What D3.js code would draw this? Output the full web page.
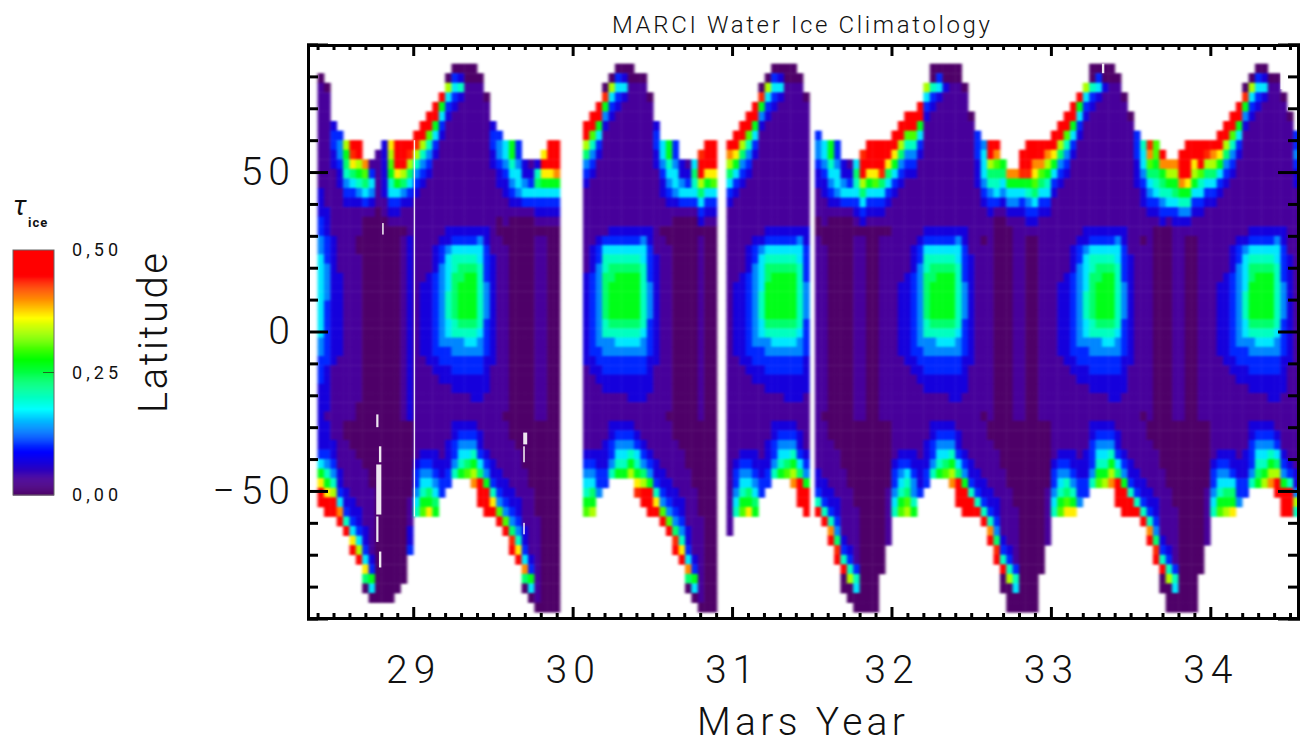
<!DOCTYPE html>
<html>
<head>
<meta charset="utf-8">
<script src="https://cdn.jsdelivr.net/npm/d3@7"></script>
<style>
  html, body { margin: 0; background: #fff; }
  text { font-family: Roboto, "Open Sans", sans-serif; font-weight: 300; fill: #111; }
</style>
</head>
<body>
<div id="my_dataviz"></div>
<script>
// each column is "north belt south", one hex digit per latitude cell, tau = digit / 30
// "." or a short south string means no data
var starts = { my28: 28.40, my29: 29.00, my30: 30.065, my31a: 30.965, my31b: 31.52, my32: 32.00, my33: 33.00, my34: 34.00 };

var my28 = [
  "...01111111111122233 44555555555443332222 222358bff",
  "....0111111111111222 33344443333333222221 2223468bff",
  "........233221111111 22222222222222111111 1122346aff",
  ".........34432211111 11112222222221111111 111112235cf",
  "..........a876432111 11111111111111111111 00111112236f",
  "..........fdb7532111 11111111111111111111 000111112235bf",
  "..........fea8642111 00111111111111111100 0000111112235af",
  "............c9753100 00000000000000000000 000001111112235b70",
  "............13542100 00000000000000000000 0000000111111123850",
  "...........111111000 00000000000000000000 0000000000000000000",
  "..........2222221100 00000000000000000000 0000000000000000000",
  "..........ba98653210 00000000000000000000 0000000000000000000",
  "..........fffb853210 00000000000000000000 000000000000000000",
  "..........ffea742110 11111111111111111111 00000000000000000",
  "..........fda7532111 22222222222222222222 00000000111223"
];
var my29 = [
  ".........fda64321111 11111111111111111111 1111233456",
  "........ffa643211111 11111222222221111111 1112345689",
  ".......ff96432111111 11112222222222111111 111234578b",
  "......fe853211111111 12223333333332211111 1112234578",
  ".....e85321111111111 23344444444433221111 11112233",
  "...0a532111111111112 24555566655433221111 1122233",
  "..035321111111111112 35667777766443322111 223346",
  "..026211111111111112 35677888876443322111 234568",
  "..001111111111111112 35678888876543322111 234579",
  "..001111111111111112 35678888876543322211 23468ac",
  "...01111111111111112 45566666665443322211 122357eff",
  ".....011111111111112 23333444433332222111 1112348eff",
  "........233221111111 11222222222222111111 11112236bf",
  ".........34432211100 11111111111111111111 1111122349e",
  "..........5543221110 01111111111111111110 11111122349f",
  "..........8865432100 00000000000000000000 001111122347df",
  "..........3345542100 00000000000000000000 0001111122346bf",
  "............22453100 00000000000000000000 000001111112235c70",
  "............12353100 00000000000000000000 0000000111111123850",
  "............26753210 11111111111111111111 00000000001111111110",
  "...........beb853210 11111111111111111111 00000000000000000000",
  "..........fffb853210 00000000000000000000 00000000000000000000",
  "..........fffc853210 00000000000000000000 00000000000000000000"
];
var my30 = [
  "........ffa743211111 11112222222222111111 1112345689",
  ".......ff96432111111 12223333333332211111 111234578a",
  "......fe853211111111 23344444444433221111 11122334",
  "....0d84211111111111 35667777766443322111 1122233",
  "...0a532111111111112 35677888876443322111 223346",
  "..035321111111111112 35678888876543322111 234568",
  "..025211111111111112 35678888876543322111 234568",
  "..001111111111111112 35678888876543322211 23468a",
  "...01111111111111112 35678888876543322211 123568bd",
  "...01111111111111112 45566666665443322211 112347aef",
  ".....011111111111112 23333444433332222111 1112348eff",
  "........233221111111 11222222222222111111 11112236bf",
  "..........5543221110 11111111111111111111 1111122349e",
  "..........8865432110 01111111111111111110 11111122349f",
  "..........3345542100 00000000000000000000 001111122347df",
  "............22453100 00000000000000000000 0001111122346bf",
  "............12353100 00000000000000000000 000001111112235c70",
  "............57653100 00000000000000000000 0000000111111123850",
  "...........dffa75320 11111111111111111111 00000000001111111110",
  "..........fffb853210 00000000000000000000 00000000000000000000",
  "..........fffb953210 00000000000000000000 00000000000000000000"
];
var my31a = [
  "..........fca7532111 11111111111111111111 111111111111",
  ".........ffb85321111 11111222222221111111 1111233456",
  "........ffa743211111 11112222222222111111 1112345689",
  ".......ff96432111111 12223333333332211111 111234578b",
  "......fe853211111111 23344444444433221111 1112234578",
  "....0d84211111111111 24555566655433221111 11112233",
  "...0a532111111111112 35677888876443322111 1122233",
  "..035321111111111112 35678888876543322111 223346",
  "..025211111111111112 35678888876543322111 234568",
  "..001111111111111112 35678888876543322211 234579",
  "..001111111111111112 35678888876543322211 23468ac",
  "...01111111111111112 45566666665443322211 122357eff",
  ".....011111111111112 23333444433332222111 1112348eff"
];
var my31b = [
  ".........34432211100 11111111111111111111 111112236f",
  "..........5543221110 01111111111111111110 1111112236f",
  "..........8865432100 00000000000000000000 00111112236cf",
  "..........3345542100 00000000000000000000 0001111122347df",
  "............22453100 00000000000000000000 000001111111236e00",
  "............12353100 00000000000000000000 0000000111111236a00",
  "............57653210 11111111111111111111 00000000011111136500",
  "...........dffa75320 11111111111111111111 00000000000000000000",
  "..........fffb853210 00000000000000000000 00000000000000000000",
  "..........fffb953210 00000000000000000000 00000000000000000000",
  "..........fffd753210 11111111111111111111 0000000000000000",
  "..........ffb7532110 11111111111111111111 0000000111111"
];
var my32 = [
  ".........ffb85321111 11111111111111111111 1111233456",
  "........ffa743211111 11111222222221111111 1112345689",
  ".......ff96432111111 11112222222222111111 111235679a",
  ".......ff96432111111 12223333333332211111 1112234468",
  "......fe853211111111 23344444444433221111 11112223",
  "....a532111111111112 35667777766443322111 1122233",
  "..006321111111111112 35677888876443322111 223346",
  "..035211111111111112 35678888876543322111 234568",
  "..002111111111111112 35678888876543322111 234579",
  "..001111111111111112 35678888876543322211 23468ac",
  "..001111111111111112 45566666665443322211 122357eff",
  "....0111111111111112 23333444433332222111 1112348eff",
  ".......0111111111111 11222222222222111111 11112236ef",
  ".........33322211111 11111111111111111111 111112236f",
  "..........4555432111 01111111111111111110 1111112236f",
  "..........ffa7643211 11111111111111111111 00111112236cf",
  "..........fc97653100 00000000000000000000 0001111122347df",
  "............87542100 00000000000000000000 000001111111236e00",
  ".............c854210 00000000000000000000 0000000111111236a000",
  ".............c854211 11111111111111111111 00000000011111136500",
  "...........ffd853211 11111111111111111111 00000000000000000000",
  "..........fffd864321 00000000000000000000 00000000000000000000",
  "..........ffcb975321 00000000000000000000 00000000000000000000",
  "..........ffc9753211 11111111111111111111 0000000000000000",
  "..........fca8653211 11111111111111111111 0000000111111"
];
var my33 = [
  ".........ffb85321111 11111111111111111111 1111233456",
  "........ffa743211111 11111222222221111111 1112345689",
  ".......ff96432111111 11112222222222111111 111234679b",
  "......fe853211111111 12223333333332211111 111223468b",
  ".....e85321111111111 23344444444433221111 111122334",
  "....a532111111111112 24555566655433221111 11122233",
  "..006321111111111112 35667777766443322111 2233346",
  "..035211111111111112 35677888876443322111 2345689",
  "..002111111111111112 35678888876543322111 234568a",
  "..001111111111111112 35678888876543322211 23468ac",
  "...01111111111111112 45566666665443322211 122357eff",
  ".....011111111111112 23333444433332222111 1112348fff",
  ".......0111111111111 11222222222222111111 11112236ff",
  ".........33322211111 11111111111111111111 111112236f",
  "..........6554322111 01111111111111111110 1111112236f",
  "..........dc97543211 11111111111111111111 00111112236cf",
  "..........9987653210 00000000000000000000 0001111122347df",
  "...........ec8764320 00000000000000000000 000001111111236e00",
  "............ca865310 00000000000000000000 0000000111111236a000",
  "............ca875321 11111111111111111111 00000000011111136500",
  "...........fffc86421 11111111111111111111 00000000000000000000",
  "..........fffeb86421 00000000000000000000 00000000000000000000",
  "..........feba853211 00000000000000000000 00000000000000000000",
  "..........ffe9653211 11111111111111111111 0000000000000000",
  "..........fda7532111 11111111111111111111 0000000111111"
];
var my34 = [
  "..........fca7532111 11111111111111111111 1111233456",
  ".........ffb85321111 11111222222221111111 1112345689",
  "........ffa743211111 11112222222222111111 111234578a",
  ".......ff96432111111 12223333333332211111 111223578b",
  "......fe853211111111 23344444444433221111 111122334",
  "....0d84211111111111 24555566655433221111 11122233",
  "...0a532111111111112 35677888876443322111 2233346",
  "..035321111111111112 35678888876543322111 2345678",
  "..025211111111111112 35678888876543322111 234568a",
  "...01111111111111112 35678888876543322211 23468ac",
  "...01111111111111112 45566666665443322211 12357aff",
  ".....011111111111112 23333444433332222111 1112348fff",
  ".......0111111111111 11222222222222111111 1111236fff",
  ".........33432211111 11111111111111111111 11111224a6"
];

// slits with no data: year from, year to, lat from, lat to
var missing = [
  [28.768, 28.782, -26, -30],
  [28.785, 28.80, -36, -41],
  [28.768, 28.80, -41.7, -57.4],
  [28.768, 28.782, -58, -66],
  [28.785, 28.80, -69, -74],
  [28.805, 28.815, 34, 30.4],
  [29.69, 29.715, -31.7, -35.4],
  [29.69, 29.70, -36, -41],
  [29.69, 29.70, -60, -63.6],
  [29.003, 29.012, 60, -58],
  [33.32, 33.335, 84, 81],
  [34.44, 34.46, 82, 76]
];

var yearTicks = [29, 30, 31, 32, 33, 34];
var latTicks = [-50, 0, 50];
var legendTicks = ["0,00", "0,25", "0,50"];
var legendValues = [0, 0.25, 0.5];
var tauStops = [0, 0.033, 0.067, 0.087, 0.175, 0.276, 0.361, 0.446, 0.5];
var tauColors = ["#4e0068", "#47009a", "#1500dd", "#0000ff", "#00ffff", "#00ff00", "#ffff00", "#ff0000", "#ff0000"];

var cellYears = 0.04;
var northLat = d3.range(90, 30, -3);
var beltLat = d3.range(30, -28, -2.9);
var southLat = d3.range(-28, -88, -3);

var svg = d3.select("#my_dataviz").append("svg")
    .attr("width", 1301)
    .attr("height", 744)
    .style("display", "block");

var x = d3.scaleLinear().domain([28.34, 34.55]).range([308, 1298]);
var y = d3.scaleLinear().domain([-90, 90]).range([618.5, 44.5]);
var color = d3.scaleLinear().domain(tauStops).range(tauColors);

var defs = svg.append("defs");
defs.append("clipPath").attr("id", "plot")
  .append("rect").attr("x", 308).attr("y", 45).attr("width", 990).attr("height", 573);
// the source image is a soft raster, take the hard cell edges off
defs.append("filter").attr("id", "soft")
    .attr("filterUnits", "userSpaceOnUse")
    .attr("x", 300).attr("y", 40).attr("width", 1001).attr("height", 590)
    .attr("color-interpolation-filters", "sRGB")
  .append("feGaussianBlur").attr("stdDeviation", "1.6 1");

// flatten the columns into cells
var cells = [];
function addColumns(start, columns) {
    columns.forEach(function (col, i) {
        var parts = col.split(" ");
        [[parts[0], northLat, 3], [parts[1], beltLat, 2.9], [parts[2], southLat, 3]].forEach(function (band) {
            band[0].split("").forEach(function (ch, j) {
                if (ch == ".") return;
                cells.push({ year: start + i * cellYears, lat: band[1][j], dlat: band[2], tau: parseInt(ch, 16) / 30 });
            });
        });
    });
}
addColumns(starts.my28, my28);
addColumns(starts.my29, my29);
addColumns(starts.my30, my30);
addColumns(starts.my31a, my31a);
addColumns(starts.my31b, my31b);
addColumns(starts.my32, my32);
addColumns(starts.my33, my33);
addColumns(starts.my34, my34);

var map = svg.append("g").attr("clip-path", "url(#plot)");
map.append("g").attr("filter", "url(#soft)")
  .selectAll("rect.cell")
    .data(cells)
    .enter()
    .append("rect")
    .attr("class", "cell")
    .attr("x", function (d) { return x(d.year); })
    .attr("y", function (d) { return y(d.lat); })
    .attr("width", function (d) { return x(d.year + cellYears) - x(d.year) + 0.4; })
    .attr("height", function (d) { return y(d.lat - d.dlat) - y(d.lat) + 0.4; })
    .attr("fill", function (d) { return color(d.tau); });

map.selectAll("rect.missing")
    .data(missing)
    .enter()
    .append("rect")
    .attr("class", "missing")
    .attr("x", function (d) { return x(d[0]); })
    .attr("y", function (d) { return y(d[2]); })
    .attr("width", function (d) { return x(d[1]) - x(d[0]); })
    .attr("height", function (d) { return y(d[3]) - y(d[2]); })
    .attr("fill", "#fff")
    .attr("opacity", 0.9);

// axes, ticks point inward on all four sides
var minorYears = d3.range(284, 346).map(function (d) { return d / 10; }).filter(function (d) { return d % 1 != 0; });
var minorLats = d3.range(-80, 90, 10).filter(function (d) { return d % 50 != 0; });

function styleAxis(g) {
    g.selectAll(".domain").attr("stroke", "#000").attr("stroke-width", 3);
    g.selectAll(".tick line").attr("stroke", "#000").attr("stroke-width", 3);
}

svg.append("g").attr("transform", "translate(0,618)")
    .call(d3.axisBottom(x).tickValues(minorYears).tickSize(-5).tickFormat(""))
    .call(styleAxis);
var xAxis = svg.append("g").attr("transform", "translate(0,618)")
    .call(d3.axisBottom(x).tickValues(yearTicks).tickSize(-11).tickPadding(37).tickFormat(d3.format("d")))
    .call(styleAxis);
xAxis.selectAll("text").style("font-size", "39px").style("letter-spacing", "6px").attr("fill", "#111");

svg.append("g").attr("transform", "translate(0,45)")
    .call(d3.axisTop(x).tickValues(minorYears).tickSize(-5).tickFormat(""))
    .call(styleAxis);
svg.append("g").attr("transform", "translate(0,45)")
    .call(d3.axisTop(x).tickValues(yearTicks).tickSize(-11).tickFormat(""))
    .call(styleAxis);

svg.append("g").attr("transform", "translate(308,0)")
    .call(d3.axisLeft(y).tickValues(minorLats).tickSize(-10).tickFormat(""))
    .call(styleAxis);
var yAxis = svg.append("g").attr("transform", "translate(308,0)")
    .call(d3.axisLeft(y).tickValues(latTicks).tickSize(-20).tickPadding(12)
        .tickFormat(function (d) { return d < 0 ? "\u2212" + (-d) : d; }))
    .call(styleAxis);
yAxis.selectAll("text").style("font-size", "39px").style("letter-spacing", "6px").attr("fill", "#111");

svg.append("g").attr("transform", "translate(1298,0)")
    .call(d3.axisRight(y).tickValues(minorLats).tickSize(-10).tickFormat(""))
    .call(styleAxis);
svg.append("g").attr("transform", "translate(1298,0)")
    .call(d3.axisRight(y).tickValues(latTicks).tickSize(-20).tickFormat(""))
    .call(styleAxis);

// titles
svg.append("text").attr("x", 801).attr("y", 33).attr("text-anchor", "middle")
    .attr("textLength", 378).style("font-size", "24px").text("MARCI Water Ice Climatology");
svg.append("text").attr("x", 801).attr("y", 735).attr("text-anchor", "middle")
    .attr("textLength", 208).style("font-size", "39px").text("Mars Year");
svg.append("text").attr("transform", "translate(167,333) rotate(-90)").attr("text-anchor", "middle")
    .attr("textLength", 160).style("font-size", "40px").text("Latitude");

// colour bar
var barY = d3.scaleLinear().domain([0, 0.5]).range([495, 250]);
var legend = svg.append("g");
legend.selectAll("rect.step")
    .data(d3.range(0, 0.5, 0.002))
    .enter()
    .append("rect")
    .attr("class", "step")
    .attr("x", 13)
    .attr("width", 41)
    .attr("y", function (d) { return barY(d + 0.002); })
    .attr("height", function () { return barY(0) - barY(0.002) + 0.5; })
    .attr("fill", function (d) { return color(d); });
legend.append("rect").attr("x", 13).attr("y", 250).attr("width", 41).attr("height", 245)
    .attr("fill", "none").attr("stroke", "#666").attr("stroke-width", 1);
legend.append("line").attr("x1", 43).attr("x2", 54).attr("y1", barY(0.25)).attr("y2", barY(0.25))
    .attr("stroke", "#226622").attr("stroke-width", 1);
legend.selectAll("text.val")
    .data(legendValues)
    .enter()
    .append("text")
    .attr("class", "val")
    .attr("x", 72)
    .attr("y", function (d) { return barY(d) + 6; })
    .attr("textLength", 46)
    .style("font-size", "18px")
    .style("font-weight", 400)
    .text(function (d, i) { return legendTicks[i]; });
legend.append("text").attr("x", 13).attr("y", 215)
    .style("font-size", "27px").style("font-style", "italic").style("font-weight", 400).text("\u03c4");
legend.append("text").attr("x", 28).attr("y", 227)
    .style("font-size", "13px").style("letter-spacing", "1px").style("font-weight", 700).text("ice");
</script>
</body>
</html>
